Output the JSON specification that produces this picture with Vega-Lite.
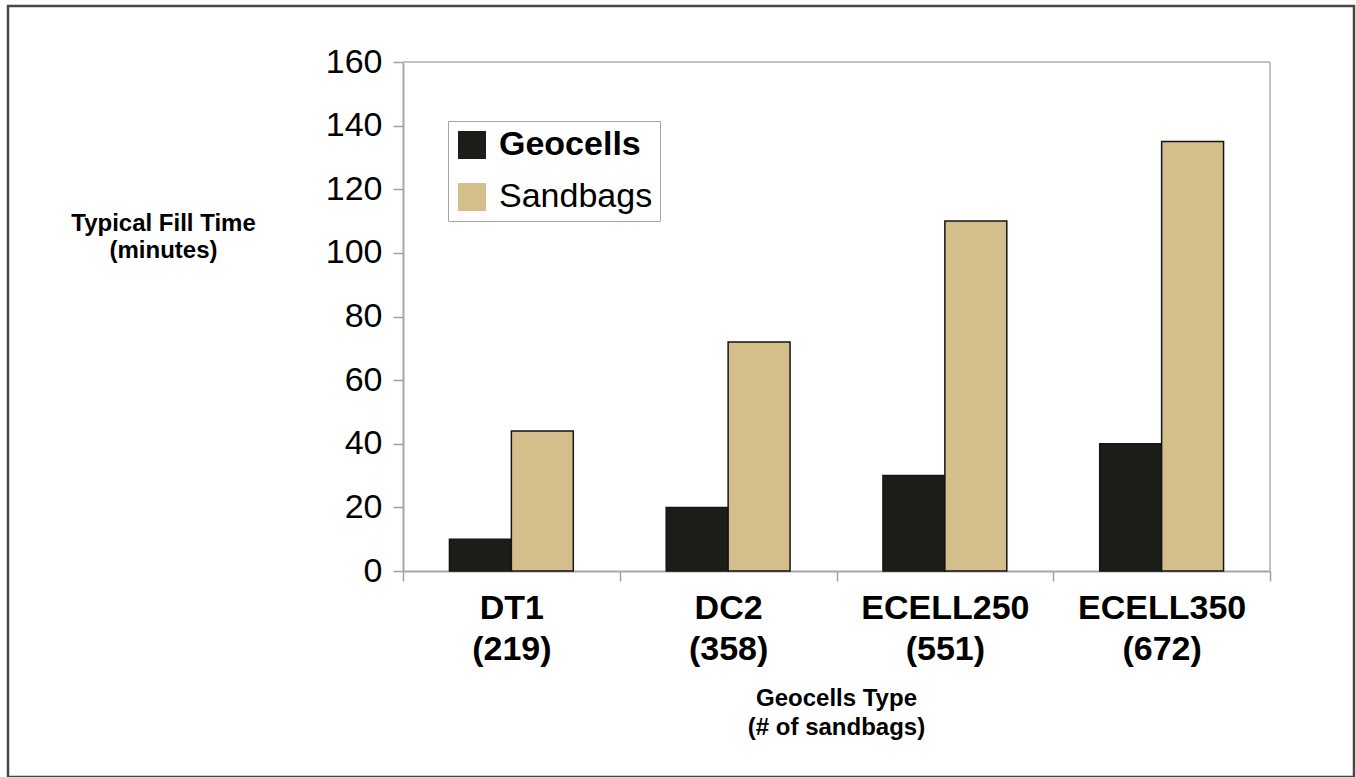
{
  "$schema": "https://vega.github.io/schema/vega-lite/v6.json",
  "width": 1346,
  "height": 771,
  "autosize": {"type": "none"},
  "padding": {"left": 8, "top": 6, "right": 2, "bottom": 0},
  "background": "white",
  "config": {
    "view": {"stroke": "#474747", "strokeWidth": 2.5},
    "font": "Liberation Sans"
  },
  "data": {
    "values": [
      {"type": "DT1 (219)", "series": "Geocells", "minutes": 10},
      {"type": "DT1 (219)", "series": "Sandbags", "minutes": 44},
      {"type": "DC2 (358)", "series": "Geocells", "minutes": 20},
      {"type": "DC2 (358)", "series": "Sandbags", "minutes": 72},
      {"type": "ECELL250 (551)", "series": "Geocells", "minutes": 30},
      {"type": "ECELL250 (551)", "series": "Sandbags", "minutes": 110},
      {"type": "ECELL350 (672)", "series": "Geocells", "minutes": 40},
      {"type": "ECELL350 (672)", "series": "Sandbags", "minutes": 135}
    ]
  },
  "layer": [
    {
      "mark": {"type": "bar", "stroke": "#151515", "strokeWidth": 1.5},
      "encoding": {
        "x": {
          "field": "type",
          "type": "nominal",
          "scale": {
            "domain": ["DT1 (219)", "DC2 (358)", "ECELL250 (551)", "ECELL350 (672)"],
            "range": [395, 1262],
            "paddingInner": 0,
            "paddingOuter": 0
          },
          "axis": {
            "title": ["Geocells Type", "(# of sandbags)"],
            "titleFontSize": 24,
            "titleFontWeight": "bold",
            "titleColor": "black",
            "titleX": 828,
            "titleY": 127,
            "titleAlign": "center",
            "titleBaseline": "middle",
            "titleLineHeight": 29,
            "labelExpr": "split(datum.label, ' ')",
            "labelFontSize": 34,
            "labelFontWeight": "bold",
            "labelColor": "black",
            "labelLineHeight": 41,
            "labelPadding": 10,
            "labelAngle": 0,
            "labelLimit": 400,
            "tickBand": "extent",
            "tickSize": 10,
            "tickColor": "#a0a0a0",
            "tickWidth": 1.5,
            "domainColor": "#a8a8a8",
            "domainWidth": 2,
            "offset": -206,
            "grid": false
          }
        },
        "xOffset": {
          "field": "series",
          "scale": {"domain": ["Geocells", "Sandbags"], "paddingInner": 0, "paddingOuter": 0.75}
        },
        "y": {
          "field": "minutes",
          "type": "quantitative",
          "scale": {"domain": [0, 160], "range": [565, 56], "nice": false},
          "axis": {
            "title": ["Typical Fill Time", "(minutes)"],
            "titleAngle": 0,
            "titleX": -240,
            "titleY": 217,
            "titleAlign": "center",
            "titleBaseline": "middle",
            "titleFontSize": 24,
            "titleFontWeight": "bold",
            "titleColor": "black",
            "titleLineHeight": 27,
            "values": [0, 20, 40, 60, 80, 100, 120, 140, 160],
            "labelFontSize": 34,
            "labelColor": "black",
            "labelPadding": 11,
            "tickSize": 10,
            "tickColor": "#a0a0a0",
            "tickWidth": 1.5,
            "domainColor": "#a8a8a8",
            "domainWidth": 2,
            "offset": -395,
            "grid": false
          }
        },
        "color": {
          "field": "series",
          "type": "nominal",
          "scale": {"domain": ["Geocells", "Sandbags"], "range": ["#1b1d18", "#d4be8c"]},
          "legend": {
            "title": null,
            "orient": "none",
            "legendX": 440,
            "legendY": 115,
            "strokeColor": "#a6a6a6",
            "fillColor": "white",
            "padding": 7,
            "symbolType": "square",
            "symbolSize": 784,
            "symbolStrokeWidth": 0,
            "labelFontSize": 34,
            "labelFontWeight": {"expr": "datum.value === 'Geocells' ? 'bold' : 'normal'"},
            "labelColor": "black",
            "labelOffset": 10,
            "rowPadding": 18,
            "labelLimit": 400
          }
        }
      }
    },
    {
      "data": {"values": [{"edge": "top"}]},
      "mark": {"type": "rule", "color": "#c4c4c4", "strokeWidth": 2},
      "encoding": {
        "y": {"datum": 160, "type": "quantitative"},
        "x": {"datum": "DT1 (219)", "type": "nominal", "bandPosition": 0},
        "x2": {"datum": "ECELL350 (672)", "bandPosition": 1}
      }
    },
    {
      "data": {"values": [{"edge": "right"}]},
      "mark": {"type": "rule", "color": "#c4c4c4", "strokeWidth": 2},
      "encoding": {
        "x": {"datum": "ECELL350 (672)", "type": "nominal", "bandPosition": 1},
        "y": {"datum": 0, "type": "quantitative"},
        "y2": {"datum": 160}
      }
    }
  ]
}
